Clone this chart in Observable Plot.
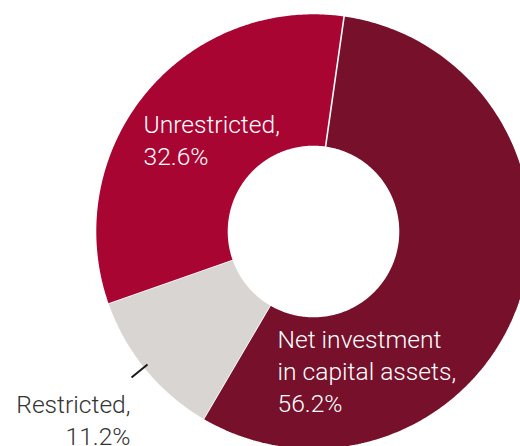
<!DOCTYPE html>
<html><head><meta charset="utf-8">
<script src="https://cdn.jsdelivr.net/npm/d3@7"></script>
<script src="https://cdn.jsdelivr.net/npm/@observablehq/plot@0.6"></script>
<style>body{margin:0;background:#fff}#chart svg{display:block}</style>
</head><body><div id="chart"></div>
<script>
// ---- data ----
const categories = ["Net investment in capital assets", "Restricted", "Unrestricted"];
const shares = [56.2, 11.2, 32.6];
const labelTexts = ["Net investment\nin capital assets,\n56.2%", "Restricted,\n11.2%", "Unrestricted,\n32.6%"];
const colors = ["#76102b", "#d9d5d2", "#a80533"];

// ---- layout (pixels) ----
const W = 520, H = 446, cx = 313, cy = 231, R = 218, innerFrac = 85 / 218;
const startDeg = 8.1;
const labelLayout = [
  {px: 277, py: 325, anchor: "start", fill: "#ffffff"},
  {px: 130, py: 390, anchor: "end", fill: "#333333"},
  {px: 143, py: 110, anchor: "start", fill: "#ffffff"}
];
const toX = px => (px - cx) / R, toY = py => (cy - py) / R;

const a0 = startDeg * Math.PI / 180;
const arcs = d3.pie().sort(null).value(d => d).startAngle(a0).endAngle(a0 + 2 * Math.PI)(shares);
const pts = [];
arcs.forEach((a, i) => {
  const n = 240;
  for (let k = 0; k <= n; k++) {
    const t = a.startAngle + (a.endAngle - a.startAngle) * k / n;
    pts.push({cat: categories[i], x: Math.sin(t), y: Math.cos(t)});
  }
  for (let k = n; k >= 0; k--) {
    const t = a.startAngle + (a.endAngle - a.startAngle) * k / n;
    pts.push({cat: categories[i], x: innerFrac * Math.sin(t), y: innerFrac * Math.cos(t)});
  }
});
const labels = categories.map((c, i) => ({cat: c, text: labelTexts[i], x: toX(labelLayout[i].px), y: toY(labelLayout[i].py), anchor: labelLayout[i].anchor, fill: labelLayout[i].fill}));

const plot = Plot.plot({
  width: W, height: H, margin: 0,
  x: {domain: [toX(0), toX(W)], axis: null},
  y: {domain: [toY(H), toY(0)], axis: null},
  color: {domain: categories, range: colors},
  style: {fontFamily: "Roboto, sans-serif", background: "#fff"},
  marks: [
    Plot.line(pts, {x: "x", y: "y", z: "cat", fill: "cat", stroke: "#fff", strokeWidth: 1.6, strokeLinejoin: "miter"}),
    ...labels.map(l => Plot.text([l], {x: "x", y: "y", text: "text", textAnchor: l.anchor, lineAnchor: "top", lineHeight: 1.3, fontSize: 24.6, fontWeight: 300, fill: l.fill})),
    Plot.link([{x1: toX(131), y1: toY(377), x2: toX(147), y2: toY(364)}], {x1: "x1", y1: "y1", x2: "x2", y2: "y2", stroke: "#1a1a1a", strokeWidth: 2})
  ]
});
document.getElementById("chart").appendChild(plot);
</script>
</body></html>
